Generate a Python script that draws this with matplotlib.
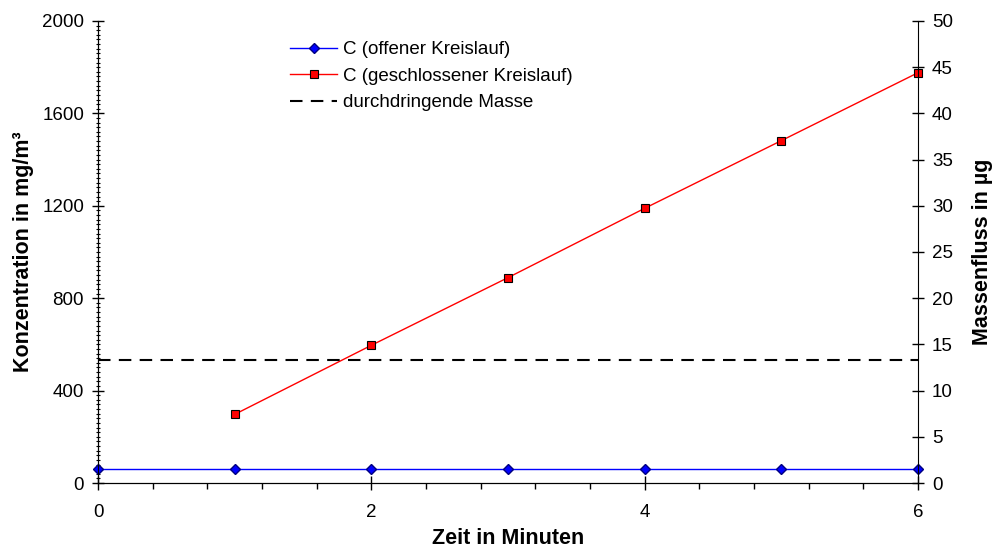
import numpy as np
import matplotlib
matplotlib.use("Agg")
import matplotlib.pyplot as plt
from matplotlib.ticker import MultipleLocator

plt.rcParams['font.family'] = ['Liberation Sans', 'DejaVu Sans']

# data
zeit_offen = [0, 1, 2, 3, 4, 5, 6]
c_offen = [60, 60, 60, 60, 60, 60, 60]
zeit_geschl = [1, 2, 3, 4, 5, 6]
c_geschl = [297, 596, 889, 1189, 1482, 1776]
masse_durchdr = 13.3   # µg, right axis

fig = plt.figure(figsize=(10, 5.52), dpi=100)
ax = fig.add_axes([0.098, 0.125, 0.82, 0.837])
ax2 = ax.twinx()

ax.plot(zeit_offen, c_offen, color='#0000ff', lw=1, marker='D', ms=5,
        mfc='#0000ff', mec='#000080', label='C (offener Kreislauf)', clip_on=False, zorder=5)
ax.plot(zeit_geschl, c_geschl, color='#ff0000', lw=1, marker='s', ms=5.5,
        mfc='#ff0000', mec='black', mew=0.8, label='C (geschlossener Kreislauf)', clip_on=False, zorder=5)
ax2.axhline(masse_durchdr, color='black', lw=1.5, dashes=(6, 4), label='durchdringende Masse')

ax.set_xlim(0, 6)
ax.set_ylim(0, 2000)
ax2.set_ylim(0, 50)

ax.xaxis.set_major_locator(MultipleLocator(2))
ax.xaxis.set_minor_locator(MultipleLocator(0.4))
ax.yaxis.set_major_locator(MultipleLocator(400))
ax.yaxis.set_minor_locator(MultipleLocator(20))
ax2.yaxis.set_major_locator(MultipleLocator(5))

ax.tick_params(axis='x', which='major', direction='inout', length=10, width=1, labelsize=13.5, pad=10)
ax.tick_params(axis='x', which='minor', direction='out', length=4, width=1)
ax.tick_params(axis='y', which='major', direction='inout', length=8, width=1, labelsize=13.5, pad=6)
ax.tick_params(axis='y', which='minor', direction='inout', length=3, width=0.8)
ax2.tick_params(axis='y', which='major', direction='inout', length=8, width=1, labelsize=13.5, pad=6)

for a in (ax, ax2):
    a.spines['top'].set_visible(False)
ax.spines['right'].set_visible(False)

ax.set_xlabel('Zeit in Minuten', fontsize=15.5, fontweight='bold', labelpad=5)
ax.set_ylabel('Konzentration in mg/m³', fontsize=15.5, fontweight='bold', labelpad=6)
ax2.set_ylabel('Massenfluss in µg', fontsize=15.5, fontweight='bold', labelpad=14)

h1, l1 = ax.get_legend_handles_labels()
h2, l2 = ax2.get_legend_handles_labels()
ax.legend(h1 + h2, l1 + l2, loc='upper left', bbox_to_anchor=(0.214, 0.993),
          frameon=False, fontsize=13.5, handlelength=2.5, labelspacing=0.5, handletextpad=0.3)

fig.savefig('out.png', dpi=100)
